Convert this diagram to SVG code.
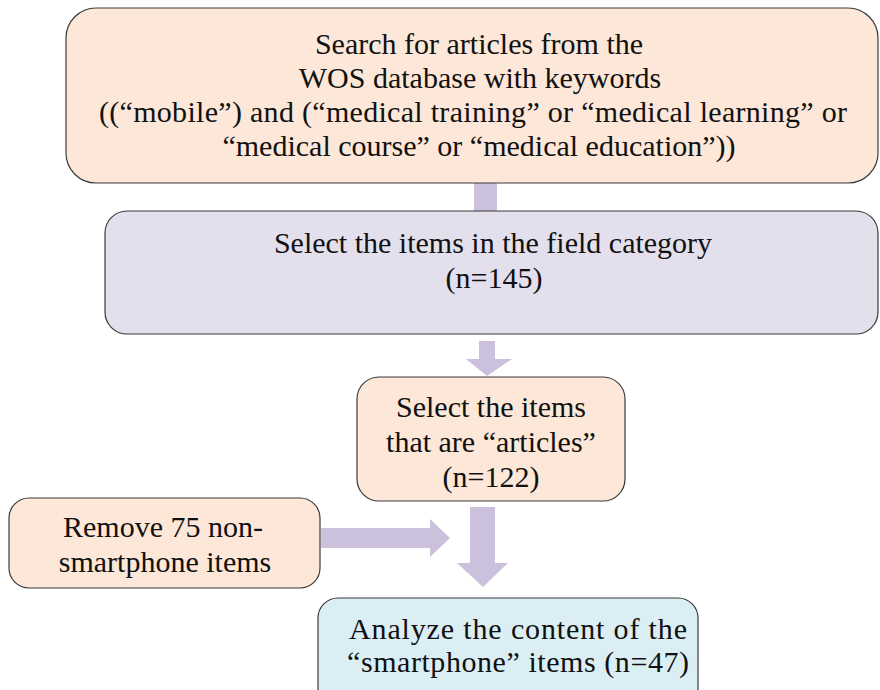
<svg xmlns="http://www.w3.org/2000/svg" width="880" height="690" viewBox="0 0 880 690">
<style>
.box{stroke:#3a3a3a;stroke-width:1.2}
.peach{fill:#fce7d8}
.lav{fill:#e4dfec}
.blue{fill:#dbeef4}
.arr{fill:#cbc1dd}
.t{font-size:30px;fill:#111;text-anchor:middle}
</style>
<rect width="880" height="690" fill="#fff"/>
<g id="connectors">
<rect class="arr" x="474" y="183" width="23" height="29"/>
<polygon class="arr" points="479,341 495,341 495,359 512,359 487,376 466,359 479,359"/>
<polygon class="arr" points="321,528 430,528 430,519 450,538 430,557 430,548 321,548"/>
<polygon class="arr" points="470,507 495,507 495,563 508,563 483,587 457,563 470,563"/>
</g>
<g id="n1" font-family="Liberation Serif, serif">
<rect class="box peach" x="66" y="8" width="812" height="175" rx="30"/>
<text class="t" font-size="31" x="479" y="54">Search for articles from the</text>
<text class="t" font-size="31" x="480" y="88">WOS database with keywords</text>
<text class="t" font-size="31" x="473" y="122" textLength="748" lengthAdjust="spacing">((“mobile”) and (“medical training” or “medical learning” or</text>
<text class="t" font-size="31" x="479" y="156">“medical course” or “medical education”))</text>
</g>
<g id="n2" font-family="Liberation Serif, serif">
<rect class="box lav" x="105" y="211" width="773" height="123" rx="22"/>
<text class="t" x="493" y="253">Select the items in the field category</text>
<text class="t" x="494" y="288">(n=145)</text>
</g>
<g id="n3" font-family="Liberation Serif, serif">
<rect class="box peach" x="357" y="377" width="268" height="124" rx="22"/>
<text class="t" x="491" y="417">Select the items</text>
<text class="t" x="491" y="452">that are “articles”</text>
<text class="t" x="491" y="487">(n=122)</text>
</g>
<g id="n4" font-family="Liberation Serif, serif">
<rect class="box peach" x="9" y="498" width="311" height="90" rx="20"/>
<text class="t" x="163" y="537">Remove 75 non-</text>
<text class="t" x="165" y="572">smartphone items</text>
</g>
<g id="n5" font-family="Liberation Serif, serif">
<rect class="box blue" x="318" y="598" width="380" height="110" rx="20"/>
<text class="t" font-size="31" x="518" y="639" textLength="338" lengthAdjust="spacing">Analyze the content of the</text>
<text class="t" font-size="31" x="518" y="672" textLength="342" lengthAdjust="spacing">“smartphone” items (n=47)</text>
</g>
</svg>
